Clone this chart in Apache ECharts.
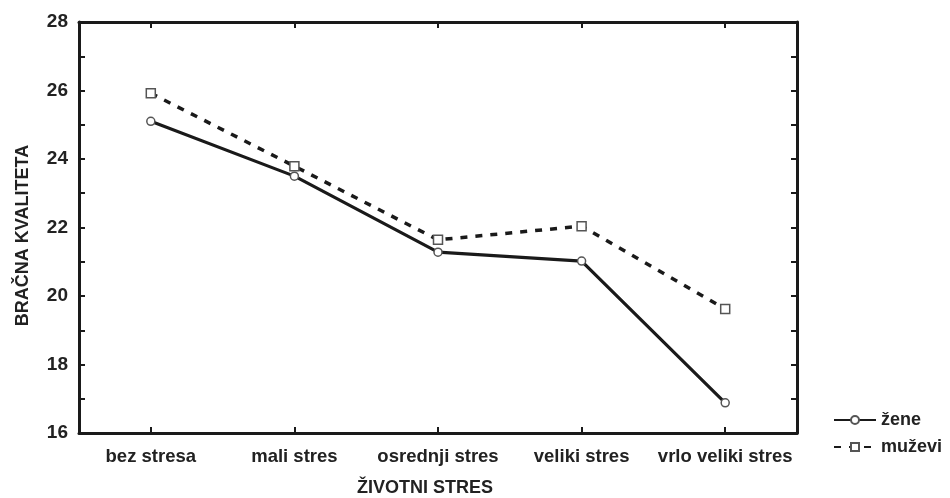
<!DOCTYPE html>
<html><head><meta charset="utf-8">
<script src="https://cdn.jsdelivr.net/npm/echarts@6/dist/echarts.min.js"></script>
<style>html,body{margin:0;padding:0;background:#fff}#c{width:950px;height:498px}</style>
</head><body><div id="c"></div>
<script>
const categories = ['bez stresa','mali stres','osrednji stres','veliki stres','vrlo veliki stres'];
const zene = [25.1, 23.5, 21.28, 21.02, 16.88];
const muzevi = [25.92, 23.79, 21.64, 22.04, 19.62];
const yTicks = {min: 16, max: 28, interval: 2};
const xName = 'ŽIVOTNI STRES';
const yName = 'BRAČNA KVALITETA';

const font = 'Liberation Sans, Arial, sans-serif';
const lineCol = '#1a1a1a';
const txtCol = '#222';
const chart = echarts.init(document.getElementById('c'));
const tickBase = {show: true, inside: true, length: 6, lineStyle: {color: lineCol, width: 2}};
chart.setOption({
  backgroundColor: '#fff',
  animation: false,
  grid: {left: 79, right: 153, top: 22, bottom: 65, containLabel: false, outerBoundsMode: 'none'},
  legend: {
    orient: 'vertical', left: 828, top: 406, itemWidth: 42, itemHeight: 10, itemGap: 9,
    textStyle: {fontFamily: font, fontWeight: 'bold', fontSize: 18, color: txtCol},
    data: ['žene', 'muževi']
  },
  xAxis: [{
    type: 'category', data: categories, boundaryGap: true,
    name: xName, nameLocation: 'middle', nameGap: 46,
    nameTextStyle: {fontFamily: font, fontWeight: 'bold', fontSize: 18, color: txtCol, padding: [0, 26, 0, 0]},
    axisLine: {lineStyle: {color: lineCol, width: 3}},
    axisTick: Object.assign({}, tickBase, {alignWithLabel: true, interval: 0}),
    axisLabel: {fontFamily: font, fontWeight: 'bold', fontSize: 18.5, color: txtCol, margin: 14, interval: 0},
    splitLine: {show: false}
  }, {
    type: 'category', data: categories, position: 'top', boundaryGap: true,
    axisLine: {lineStyle: {color: lineCol, width: 3}},
    axisTick: Object.assign({}, tickBase, {alignWithLabel: true, interval: 0}),
    axisLabel: {show: false}, splitLine: {show: false}
  }],
  yAxis: [{
    type: 'value', min: yTicks.min, max: yTicks.max, interval: yTicks.interval,
    name: yName, nameLocation: 'middle', nameGap: 47, nameRotate: 90,
    nameTextStyle: {fontFamily: font, fontWeight: 'bold', fontSize: 18, color: txtCol, padding: [0, 16, 0, 0]},
    axisLine: {show: true, lineStyle: {color: lineCol, width: 3}},
    axisTick: tickBase,
    minorTick: {show: true, splitNumber: 2, length: 6, lineStyle: {color: lineCol, width: 2}},
    axisLabel: {fontFamily: font, fontWeight: 'bold', fontSize: 19, color: txtCol, margin: 11},
    splitLine: {show: false}, minorSplitLine: {show: false}
  }, {
    type: 'value', position: 'right', min: yTicks.min, max: yTicks.max, interval: yTicks.interval,
    axisLine: {show: true, lineStyle: {color: lineCol, width: 3}},
    axisTick: tickBase,
    minorTick: {show: true, splitNumber: 2, length: 6, lineStyle: {color: lineCol, width: 2}},
    axisLabel: {show: false},
    splitLine: {show: false}, minorSplitLine: {show: false}
  }],
  series: [{
    name: 'žene', type: 'line', data: zene,
    symbol: 'circle', symbolSize: 8,
    lineStyle: {color: lineCol, width: 3.2},
    itemStyle: {color: '#fff', borderColor: '#555', borderWidth: 1.5},
    z: 3
  }, {
    name: 'muževi', type: 'line', data: muzevi,
    symbol: 'rect', symbolSize: 9,
    lineStyle: {color: lineCol, width: 3.5, type: [7, 8]},
    itemStyle: {color: '#fff', borderColor: '#555', borderWidth: 1.5},
    z: 3
  }]
});
</script></body></html>
